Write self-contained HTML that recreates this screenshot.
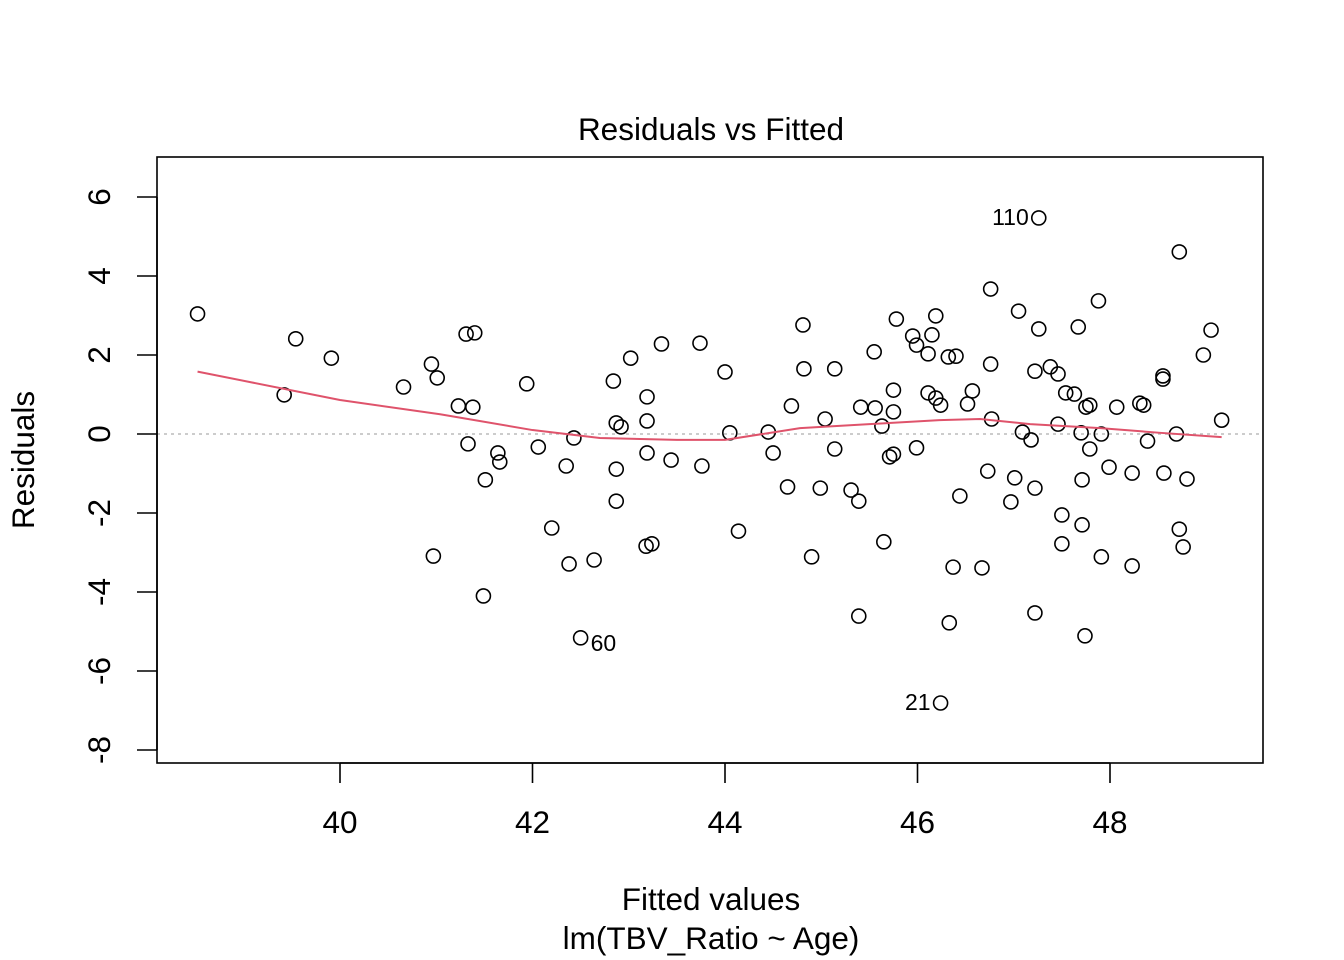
<!DOCTYPE html>
<html><head><meta charset="utf-8"><style>
html,body{margin:0;padding:0;background:#fff}
svg{display:block;font-family:"Liberation Sans",Arial,sans-serif}
</style></head><body>
<svg id="c" width="1344" height="960" viewBox="0 0 1344 960"></svg>
<script>
const fitted=[38.52,39.42,39.54,39.91,40.66,40.95,41.01,40.97,41.23,41.31,41.40,41.38,41.33,41.51,41.49,41.64,41.66,41.94,42.06,42.20,42.35,42.38,42.43,42.50,42.64,42.84,42.87,42.92,42.87,42.87,43.02,43.18,43.24,43.19,43.19,43.19,43.34,43.44,43.74,43.76,44.00,44.05,44.14,44.45,44.50,44.65,44.69,44.81,44.82,44.90,44.99,45.04,45.14,45.14,45.31,45.39,45.39,45.41,45.56,45.55,45.63,45.65,45.71,45.75,45.75,45.75,45.78,45.95,45.99,45.99,46.11,46.11,46.15,46.19,46.19,46.24,46.24,46.32,46.40,46.33,46.37,46.44,46.52,46.57,46.67,46.73,46.76,46.76,46.77,46.97,47.01,47.05,47.09,47.18,47.22,47.22,47.22,47.26,47.26,47.38,47.46,47.46,47.50,47.50,47.54,47.63,47.67,47.70,47.71,47.71,47.74,47.75,47.79,47.79,47.88,47.91,47.91,47.99,48.07,48.23,48.23,48.31,48.35,48.39,48.55,48.55,48.56,48.69,48.72,48.72,48.76,48.80,48.97,49.05,49.16];
const residuals=[3.04,0.99,2.41,1.92,1.19,1.77,1.42,-3.09,0.71,2.53,2.56,0.68,-0.25,-1.16,-4.10,-0.48,-0.71,1.27,-0.33,-2.38,-0.81,-3.29,-0.10,-5.16,-3.19,1.34,0.28,0.18,-0.89,-1.70,1.92,-2.84,-2.78,0.94,0.33,-0.48,2.28,-0.66,2.30,-0.81,1.57,0.03,-2.46,0.05,-0.48,-1.34,0.71,2.76,1.65,-3.11,-1.37,0.38,-0.38,1.65,-1.42,-1.70,-4.61,0.68,0.66,2.08,0.20,-2.73,-0.58,-0.51,1.11,0.56,2.91,2.48,2.25,-0.35,2.03,1.04,2.51,2.99,0.91,0.73,-6.81,1.95,1.97,-4.78,-3.37,-1.57,0.76,1.09,-3.39,-0.94,3.67,1.77,0.38,-1.72,-1.11,3.11,0.05,-0.15,1.59,-1.37,-4.53,5.47,2.66,1.70,1.52,0.25,-2.05,-2.78,1.04,1.01,2.71,0.03,-1.16,-2.30,-5.11,0.68,0.73,-0.38,3.37,0.00,-3.11,-0.84,0.68,-0.99,-3.34,0.78,0.73,-0.18,1.39,1.47,-0.99,0.00,4.61,-2.41,-2.86,-1.14,2.00,2.63,0.35];
const smoothX=[38.52,40.0,41.04,42.0,42.7,43.5,44.0,44.78,45.5,46.23,46.65,47.17,47.9,48.52,49.16];
const smoothY=[1.58,0.86,0.5,0.1,-0.1,-0.15,-0.15,0.15,0.25,0.35,0.38,0.25,0.15,0.03,-0.08];
const xTicks=[40,42,44,46,48];
const yTicks=[-8,-6,-4,-2,0,2,4,6];
const labelled=[{i:97,t:"110",side:"left"},{i:23,t:"60",side:"right"},{i:76,t:"21",side:"left"}];

const X=v=>340+(v-40)*96.25, Y=v=>434-v*39.5;
const svg=document.getElementById('c'), NS='http://www.w3.org/2000/svg';
function mk(tag,attrs,parent){const e=document.createElementNS(NS,tag);for(const k in attrs)e.setAttribute(k,attrs[k]);(parent||svg).appendChild(e);return e;}
const FS=31.5;

let t=mk('text',{x:711,y:140,'text-anchor':'middle','font-size':FS});t.textContent='Residuals vs Fitted';



let z=mk('line',{x1:157,x2:1263,y1:Y(0),y2:Y(0),stroke:'#bbb','stroke-width':1.5,'stroke-dasharray':'3,4'});



const pts=mk('g',{fill:'none',stroke:'#000','stroke-width':1.6});


fitted.forEach((f,i)=>{const c=mk('circle',{cx:X(f),cy:Y(residuals[i]),r:7},pts);

});

const sl=mk('polyline',{points:smoothX.map((x,i)=>X(x)+','+Y(smoothY[i])).join(' '),fill:'none',stroke:'#DF536B','stroke-width':2,'stroke-linejoin':'round'});



labelled.forEach(l=>{const px=X(fitted[l.i]),py=Y(residuals[l.i]);
const e=mk('text',{x:l.side==='left'?px-10:px+10,y:py+(l.side==='left'?7:13),'text-anchor':l.side==='left'?'end':'start','font-size':23});e.textContent=l.t;

});

const box=mk('rect',{x:157,y:157,width:1106,height:606,fill:'none',stroke:'#000','stroke-width':1.6});



const xa=mk('g',{});


mk('line',{x1:X(40),x2:X(48),y1:763,y2:763,stroke:'#000','stroke-width':1.6},xa);
xTicks.forEach(v=>{mk('line',{x1:X(v),x2:X(v),y1:763,y2:783,stroke:'#000','stroke-width':1.6},xa);
const e=mk('text',{x:X(v),y:833,'text-anchor':'middle','font-size':FS},xa);e.textContent=v;

});

const ya=mk('g',{});


mk('line',{x1:157,x2:157,y1:Y(-8),y2:Y(6),stroke:'#000','stroke-width':1.6},ya);
yTicks.forEach(v=>{mk('line',{x1:137,x2:157,y1:Y(v),y2:Y(v),stroke:'#000','stroke-width':1.6},ya);
const e=mk('text',{x:110,y:Y(v),'text-anchor':'middle','font-size':FS,transform:`rotate(-90 110 ${Y(v)})`},ya);e.textContent=v;

});

let xl=mk('text',{x:711,y:910,'text-anchor':'middle','font-size':FS});xl.textContent='Fitted values';


let sub=mk('text',{x:711,y:949,'text-anchor':'middle','font-size':FS});sub.textContent='lm(TBV_Ratio ~ Age)';


let yl=mk('text',{x:34,y:460,'text-anchor':'middle','font-size':FS,transform:'rotate(-90 34 460)'});yl.textContent='Residuals';


</script>
</body></html>
